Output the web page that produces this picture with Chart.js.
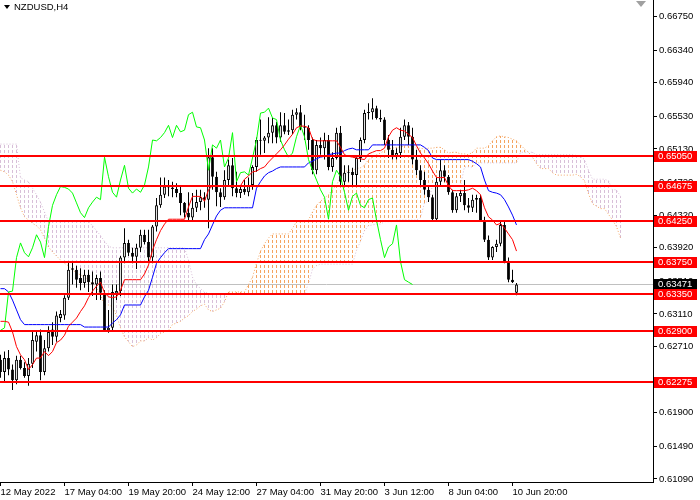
<!DOCTYPE html>
<html>
<head>
<meta charset="utf-8">
<script src="https://cdn.jsdelivr.net/npm/chart.js@4.4.1/dist/chart.umd.min.js"></script>
<style>
  html, body { margin: 0; padding: 0; background: #fff; }
  canvas { display: block; }
</style>
</head>
<body>
<canvas id="chart" width="700" height="500"></canvas>
<script>
// NZDUSD H4 candles, one entry per bar (bar 0 = first visible bar)
const openP = [
  .6255,.6240,.6257,.6243,.6230,.6255,.6245,.6235,.6250,.6277,
  .6285,.6240,.6269,.6292,.6283,.6306,.6309,.6331,.6365,.6365,
  .6355,.6349,.6359,.6350,.6347,.6355,.6337,.6291,.6294,.6336,
  .6339,.6380,.6398,.6386,.6381,.6392,.6408,.6399,.6380,.6418,
  .6444,.6457,.6467,.6466,.6464,.6459,.6447,.6435,.6429,.6441,
  .6448,.6454,.6451,.6503,.6479,.6460,.6454,.6475,.6493,.6465,
  .6459,.6464,.6460,.6469,.6491,.6524,.6523,.6527,.6533,.6542,
  .6527,.6542,.6534,.6536,.6555,.6558,.6540,.6539,.6524,.6487,
  .6518,.6514,.6524,.6491,.6502,.6533,.6473,.6484,.6485,.6481,
  .6502,.6524,.6557,.6558,.6563,.6551,.6549,.6524,.6512,.6503,
  .6508,.6528,.6542,.6528,.6500,.6487,.6475,.6463,.6454,.6427,
  .6473,.6487,.6479,.6460,.6438,.6455,.6459,.6444,.6441,.6451,
  .6453,.6426,.6402,.6380,.6393,.6397,.6420,.6375,.6353,.6337
];
const highP = [
  .6261,.6265,.6267,.6249,.6260,.6260,.6252,.6257,.6289,.6289,
  .6292,.6279,.6296,.6301,.6314,.6316,.6334,.6375,.6375,.6370,
  .6367,.6365,.6365,.6363,.6359,.6363,.6340,.6316,.6347,.6347,
  .6382,.6416,.6402,.6392,.6397,.6414,.6414,.6414,.6420,.6453,
  .6478,.6478,.6475,.6473,.6471,.6469,.6448,.6460,.6459,.6463,
  .6463,.6460,.6514,.6514,.6485,.6465,.6487,.6500,.6502,.6485,
  .6469,.6475,.6478,.6493,.6527,.6549,.6529,.6552,.6551,.6546,
  .6558,.6557,.6549,.6561,.6563,.6567,.6555,.6542,.6527,.6524,
  .6527,.6533,.6530,.6509,.6539,.6541,.6493,.6493,.6490,.6503,
  .6527,.6561,.6569,.6575,.6566,.6561,.6552,.6530,.6524,.6514,
  .6539,.6549,.6546,.6539,.6512,.6493,.6485,.6469,.6457,.6478,
  .6500,.6493,.6481,.6463,.6459,.6463,.6475,.6453,.6457,.6457,
  .6457,.6430,.6407,.6394,.6402,.6426,.6426,.6380,.6365,.6349
];
const lowP = [
  .6233,.6227,.6236,.6218,.6225,.6243,.6233,.6223,.6245,.6265,
  .6230,.6236,.6265,.6273,.6277,.6301,.6304,.6328,.6347,.6343,
  .6340,.6343,.6338,.6333,.6328,.6328,.6289,.6288,.6291,.6328,
  .6333,.6373,.6382,.6373,.6366,.6387,.6396,.6375,.6373,.6412,
  .6441,.6453,.6455,.6454,.6454,.6432,.6429,.6424,.6426,.6436,
  .6438,.6441,.6416,.6463,.6443,.6442,.6451,.6469,.6455,.6454,
  .6453,.6457,.6455,.6463,.6485,.6506,.6508,.6520,.6520,.6520,
  .6522,.6531,.6530,.6531,.6549,.6536,.6524,.6512,.6482,.6482,
  .6506,.6500,.6487,.6485,.6500,.6467,.6469,.6473,.6468,.6467,
  .6497,.6520,.6549,.6549,.6549,.6546,.6518,.6502,.6500,.6500,
  .6502,.6524,.6518,.6494,.6481,.6469,.6457,.6448,.6425,.6425,
  .6469,.6473,.6457,.6435,.6435,.6448,.6438,.6435,.6436,.6435,
  .6424,.6399,.6377,.6377,.6387,.6394,.6373,.6350,.6349,.6334
];
const closeP = [
  .6240,.6257,.6243,.6230,.6255,.6245,.6235,.6250,.6279,.6285,
  .6240,.6269,.6289,.6283,.6309,.6311,.6331,.6365,.6367,.6353,
  .6349,.6359,.6350,.6347,.6355,.6337,.6291,.6294,.6338,.6339,
  .6380,.6398,.6386,.6381,.6392,.6408,.6399,.6380,.6418,.6444,
  .6457,.6467,.6466,.6464,.6459,.6447,.6435,.6429,.6441,.6448,
  .6454,.6451,.6503,.6479,.6460,.6454,.6475,.6493,.6465,.6459,
  .6464,.6460,.6469,.6491,.6524,.6523,.6527,.6533,.6542,.6527,
  .6542,.6534,.6536,.6555,.6558,.6540,.6539,.6524,.6487,.6518,
  .6514,.6524,.6491,.6502,.6533,.6473,.6484,.6485,.6481,.6502,
  .6524,.6557,.6558,.6563,.6551,.6549,.6524,.6512,.6503,.6508,
  .6528,.6542,.6528,.6500,.6487,.6475,.6463,.6454,.6427,.6473,
  .6487,.6479,.6460,.6438,.6455,.6459,.6444,.6441,.6451,.6453,
  .6426,.6402,.6380,.6393,.6397,.6420,.6375,.6353,.6350,.63471
];

// Ichimoku lines
const tenkan = [
  .6302,.6302,.6301,.6289,.6271,.6261,.6255,.6243,.6249,.6257,
  .6257,.6265,.6260,.6265,.6276,.6279,.6285,.6296,.6301,.6306,
  .6314,.6321,.6331,.6339,.6345,.6350,.6337,.6332,.6331,.6332,
  .6340,.6353,.6353,.6353,.6353,.6353,.6360,.6371,.6389,.6402,
  .6413,.6421,.6427,.6427,.6427,.6427,.6427,.6442,.6455,.6455,
  .6455,.6449,.6463,.6468,.6468,.6468,.6468,.6468,.6468,.6468,
  .6468,.6476,.6480,.6485,.6486,.6489,.6491,.6497,.6502,.6507,
  .6512,.6518,.6525,.6531,.6539,.6541,.6541,.6539,.6525,.6523,
  .6523,.6523,.6523,.6523,.6523,.6515,.6506,.6504,.6503,.6502,
  .6501,.6500,.6507,.6509,.6511,.6511,.6514,.6528,.6536,.6539,
  .6536,.6535,.6531,.6527,.6517,.6508,.6502,.6495,.6486,.6478,
  .6478,.6478,.6468,.6462,.6462,.6462,.6462,.6463,.6465,.6462,
  .6457,.6441,.6430,.6426,.6420,.6422,.6416,.6409,.6402,.6388
];
const kijun = [
  .6342,.6342,.6338,.6328,.6316,.6304,.6298,.6298,.6298,.6298,
  .6298,.6298,.6298,.6298,.6298,.6298,.6298,.6298,.6298,.6298,
  .6298,.6295,.6295,.6295,.6295,.6295,.6295,.6295,.6300,.6304,
  .6310,.6322,.6322,.6322,.6322,.6322,.6332,.6340,.6356,.6373,
  .6380,.6386,.6391,.6391,.6391,.6391,.6391,.6391,.6391,.6391,
  .6391,.6402,.6409,.6420,.6431,.6438,.6441,.6441,.6441,.6441,
  .6441,.6441,.6441,.6441,.6465,.6473,.6480,.6484,.6486,.6489,
  .6491,.6491,.6491,.6491,.6491,.6491,.6491,.6496,.6498,.6501,
  .6503,.6504,.6506,.6507,.6508,.6508,.6511,.6513,.6514,.6512,
  .6512,.6512,.6512,.6518,.6518,.6518,.6518,.6518,.6518,.6518,
  .6518,.6518,.6518,.6518,.6518,.6518,.6515,.6511,.6502,.6500,
  .6500,.6500,.6500,.6500,.6500,.6500,.6500,.6500,.6498,.6495,
  .6491,.6475,.6462,.6460,.6459,.6457,.6451,.6442,.6432,.6420
];
// cloud spans run 26 bars past the last candle
const senkouA = [
  .6487,.6485,.6481,.6473,.6457,.6441,.6430,.6426,.6422,.6419,
  .6414,.6404,.6393,.6387,.6382,.6377,.6373,.6370,.6365,.6361,
  .6359,.6356,.6353,.6348,.6343,.6334,.6322,.6322,.6320,.6309,
  .6294,.6283,.6277,.6271,.6273,.6278,.6278,.6282,.6279,.6282,
  .6287,.6289,.6291,.6298,.6300,.6302,.6306,.6309,.6314,.6317,
  .6321,.6323,.6316,.6314,.6316,.6318,.6326,.6338,.6338,.6338,
  .6338,.6338,.6347,.6356,.6373,.6388,.6397,.6404,.6409,.6409,
  .6409,.6409,.6409,.6416,.6424,.6424,.6424,.6426,.6436,.6444,
  .6449,.6453,.6457,.6463,.6469,.6478,.6485,.6487,.6487,.6489,
  .6490,.6493,.6500,.6503,.6506,.6508,.6511,.6513,.6514,.6515,
  .6515,.6517,.6517,.6517,.6514,.6514,.6513,.6514,.6514,.6515,
  .6515,.6512,.6508,.6509,.6509,.6507,.6507,.6506,.6509,.6514,
  .6514,.6514,.6517,.6523,.6528,.6529,.6528,.6527,.6525,.6523,
  .6518,.6513,.6509,.6503,.6495,.6489,.6489,.6489,.6484,.6481,
  .6481,.6481,.6481,.6481,.6482,.6479,.6474,.6458,.6446,.6443,
  .6440,.6440,.6433,.6426,.6418,.6404
];
const senkouB = [
  .6519,.6519,.6519,.6519,.6519,.6478,.6475,.6473,.6465,.6457,
  .6448,.6436,.6424,.6424,.6424,.6424,.6424,.6424,.6424,.6424,
  .6424,.6424,.6424,.6419,.6413,.6407,.6400,.6394,.6392,.6392,
  .6392,.6392,.6392,.6392,.6392,.6392,.6392,.6392,.6392,.6392,
  .6392,.6392,.6392,.6392,.6392,.6392,.6392,.6377,.6356,.6347,
  .6342,.6338,.6336,.6336,.6336,.6336,.6336,.6336,.6336,.6336,
  .6336,.6336,.6336,.6336,.6336,.6336,.6336,.6336,.6336,.6336,
  .6336,.6336,.6336,.6336,.6336,.6336,.6336,.6348,.6366,.6370,
  .6372,.6372,.6372,.6372,.6372,.6372,.6372,.6372,.6372,.6389,
  .6400,.6413,.6419,.6420,.6421,.6421,.6424,.6424,.6424,.6426,
  .6426,.6426,.6426,.6426,.6426,.6429,.6447,.6449,.6468,.6468,
  .6468,.6468,.6468,.6468,.6468,.6468,.6491,.6491,.6491,.6496,
  .6496,.6496,.6496,.6496,.6496,.6496,.6496,.6496,.6496,.6496,
  .6509,.6509,.6509,.6509,.6506,.6506,.6506,.6506,.6506,.6506,
  .6506,.6506,.6506,.6506,.6505,.6504,.6500,.6487,.6476,.6476,
  .6476,.6476,.6474,.6463,.6463,.6455
];
const chikouShift = 26;

const levels = [0.65050, 0.64675, 0.64250, 0.63750, 0.63350, 0.62900, 0.62275];
const lastPrice = 0.63471;
const yTicks = [0.66750, 0.66340, 0.65940, 0.65530, 0.65130, 0.64720, 0.64320, 0.63920,
                0.63510, 0.63110, 0.62710, 0.62300, 0.61900, 0.61490, 0.61090];
const xTickBars = [0, 16, 32, 48, 64, 80, 96, 112, 128];
const xTickLabels = ['12 May 2022', '17 May 04:00', '19 May 20:00', '24 May 12:00', '27 May 04:00',
                     '31 May 20:00', '3 Jun 12:00', '8 Jun 04:00', '10 Jun 20:00'];
const symbol = 'NZDUSD,H4';

const FONT_FAMILY = '"Liberation Sans", Arial, sans-serif';
const FONT = { family: FONT_FAMILY, size: 9.5 };

// vertical dotted hatch used by MT4 for the kumo
function hatch(color) {
  const c = document.createElement('canvas');
  c.width = 1; c.height = 5;
  const g = c.getContext('2d');
  g.fillStyle = color;
  g.fillRect(0, 0, 1, 3);
  return g.createPattern(c, 'repeat');
}

const idx = closeP.map((c, i) => i);
const wicks = idx.map(i => ({ x: i, y: [lowP[i], highP[i]] }));
const bodies = idx.map(i => ({ x: i, y: [openP[i], closeP[i]] }));
const bodyColors = idx.map(i => closeP[i] >= openP[i] ? '#ffffff' : '#000000');

const cloudUp = [], cloudDown = [];
senkouA.forEach((a, i) => {
  const b = senkouB[i];
  (a >= b ? cloudUp : cloudDown).push({ x: i, y: [Math.min(a, b), Math.max(a, b)] });
});

const asLine = arr => arr.map((v, i) => ({ x: i, y: v }));
const chikou = closeP.slice(chikouShift).map((c, k) => ({ x: k, y: c }));

const lineBase = { type: 'line', borderWidth: 1, pointRadius: 0, tension: 0, fill: false };
const barBase = { type: 'bar', grouped: false, borderWidth: 0 };

const mt4 = {
  id: 'mt4',
  beforeDatasetsDraw(chart) {
    const { ctx, chartArea: a } = chart;
    const y = Math.round(chart.scales.y.getPixelForValue(lastPrice)) + 0.5;
    ctx.save();
    ctx.strokeStyle = '#c0c0c0';
    ctx.lineWidth = 1;
    ctx.beginPath();
    ctx.moveTo(a.left, y);
    ctx.lineTo(a.right, y);
    ctx.stroke();
    ctx.restore();
  },
  afterDatasetsDraw(chart) {
    const { ctx, chartArea: a } = chart;
    ctx.save();
    ctx.strokeStyle = '#ff0000';
    ctx.lineWidth = 2;
    levels.forEach(v => {
      const y = Math.round(chart.scales.y.getPixelForValue(v));
      ctx.beginPath();
      ctx.moveTo(a.left, y);
      ctx.lineTo(a.right, y);
      ctx.stroke();
    });
    ctx.restore();
  },
  afterDraw(chart) {
    const { ctx, chartArea: a } = chart;
    const ys = chart.scales.y;
    ctx.save();
    ctx.font = '9.5px ' + FONT_FAMILY;
    ctx.textBaseline = 'middle';
    const box = (v, bg) => {
      const y = Math.round(ys.getPixelForValue(v));
      ctx.fillStyle = bg;
      ctx.fillRect(a.right + 1, y - 5, 43, 11);
      ctx.fillStyle = '#ffffff';
      ctx.fillText(v.toFixed(5), a.right + 5, y + 0.5);
    };
    box(lastPrice, '#000000');
    levels.forEach(v => box(v, '#ff0000'));

    // symbol caption
    ctx.fillStyle = '#000000';
    ctx.beginPath();
    ctx.moveTo(4, 5); ctx.lineTo(10, 5); ctx.lineTo(7, 9); ctx.closePath();
    ctx.fill();
    ctx.fillText(symbol, 14, 7.5);

    // chart shift marker
    ctx.fillStyle = '#a0a0a0';
    ctx.beginPath();
    ctx.moveTo(a.right - 17, 1); ctx.lineTo(a.right - 7, 1); ctx.lineTo(a.right - 12, 7); ctx.closePath();
    ctx.fill();
    ctx.restore();
  }
};

new Chart(document.getElementById('chart'), {
  type: 'bar',
  data: {
    datasets: [
      { ...barBase, data: cloudUp, backgroundColor: hatch('#f4a460'), maxBarThickness: 1, order: 10 },
      { ...barBase, data: cloudDown, backgroundColor: hatch('#d8bfd8'), maxBarThickness: 1, order: 10 },
      { ...lineBase, data: asLine(senkouA), borderColor: '#f4a460', borderDash: [1, 2], order: 9 },
      { ...lineBase, data: asLine(senkouB), borderColor: '#d8bfd8', borderDash: [1, 2], order: 9 },
      { ...barBase, data: wicks, backgroundColor: '#000000', maxBarThickness: 1, order: 4 },
      { ...barBase, data: bodies, backgroundColor: bodyColors, borderColor: '#000000', borderWidth: 1,
        borderSkipped: false, maxBarThickness: 3, minBarLength: 1, order: 3 },
      { ...lineBase, data: chikou, borderColor: '#00ff00', order: 2 },
      { ...lineBase, data: asLine(kijun), borderColor: '#0000ff', order: 2 },
      { ...lineBase, data: asLine(tenkan), borderColor: '#ff0000', order: 1 }
    ]
  },
  options: {
    responsive: false,
    devicePixelRatio: 1,
    animation: false,
    events: [],
    layout: { padding: 0 },
    plugins: { legend: { display: false }, tooltip: { enabled: false }, title: { display: false } },
    scales: {
      x: {
        type: 'linear', min: -0.125, max: 163.125, offset: false,
        afterBuildTicks: s => { s.ticks = xTickBars.map(v => ({ value: v })); },
        afterFit: s => { s.height = 18; s.paddingLeft = 0; s.paddingRight = 0; },
        ticks: { autoSkip: false, maxRotation: 0, align: 'start', padding: 1, color: '#000', font: FONT,
                 callback: v => xTickLabels[xTickBars.indexOf(v)] },
        grid: { drawOnChartArea: false, tickLength: 4, color: '#000', offset: false },
        border: { display: true, color: '#000' }
      },
      y: {
        type: 'linear', position: 'right', min: 0.61053, max: 0.66954,
        afterBuildTicks: s => { s.ticks = yTicks.map(v => ({ value: v })); },
        afterFit: s => { s.width = 47; s.paddingTop = 0; s.paddingBottom = 0; },
        ticks: { padding: 2, color: '#000', font: FONT, callback: v => v.toFixed(5) },
        grid: { drawOnChartArea: false, tickLength: 4, color: '#000' },
        border: { display: true, color: '#000' }
      }
    }
  },
  plugins: [mt4]
});
</script>
</body>
</html>
